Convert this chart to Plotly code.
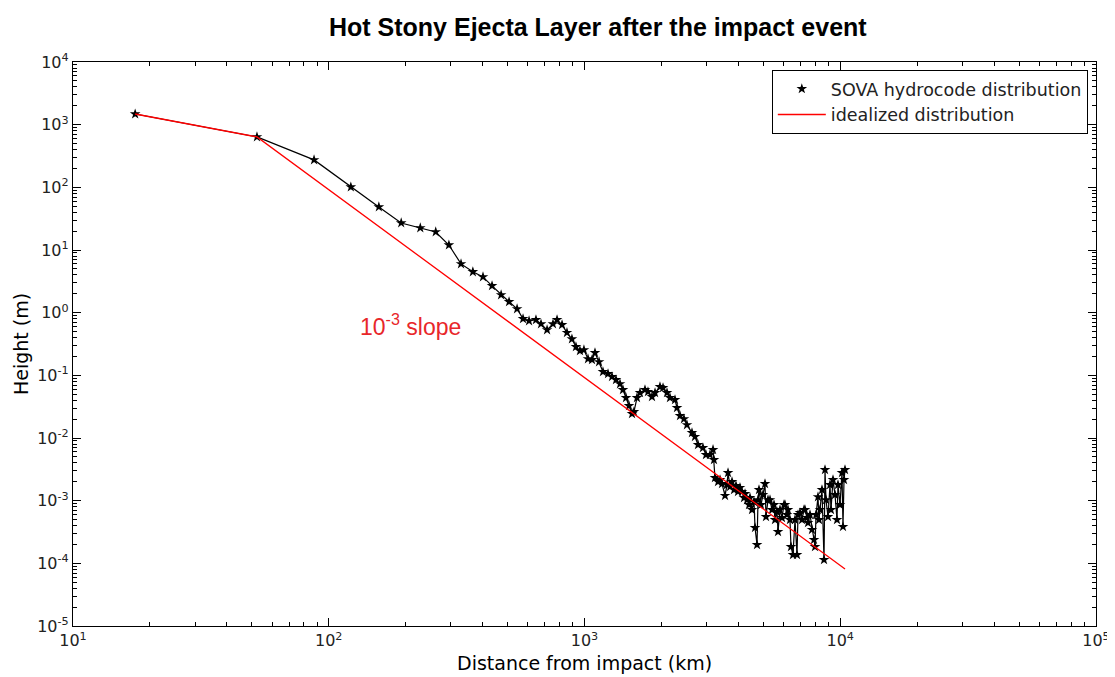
import plotly.graph_objects as go

# SOVA hydrocode distribution (distance km, height m)
sova_dist = [17.5, 52.4, 87.6, 122, 157, 192, 228, 262, 295, 329, 366, 401, 435, 472, 507, 545,
             575, 607, 646, 676, 714, 753, 781, 817, 854, 893, 926, 960, 995, 1032, 1070, 1099,
             1140, 1181, 1236, 1281, 1328, 1377, 1414, 1453, 1493, 1534, 1561, 1604, 1648, 1724,
             1771, 1836, 1887, 1973, 2028, 2102, 2159, 2259, 2300, 2363, 2449, 2516, 2632, 2704,
             2779, 2905, 2985, 3095, 3181, 3208, 3237,
             3327, 3388, 3449, 3544, 3608, 3641, 3707, 3774, 3843, 3912, 3983, 4055, 4129, 4205,
             4243, 4320, 4398, 4438, 4519, 4601, 4642, 4727, 4769, 4812, 4899, 4988, 5079, 5125,
             5218, 5313, 5409, 5509, 5558, 5659, 5710, 5813, 5918, 6026, 6081, 6191, 6247, 6360,
             6418, 6534, 6654, 6775, 6836, 6960, 7086, 7216, 7281, 7413, 7480, 7615, 7753, 7896,
             7967, 8039, 8185, 8259, 8333, 8484, 8640, 8718, 8796, 8956, 9119, 9201, 9369, 9539,
             9712, 9799, 9977, 10157, 10250, 10345, 10437]
sova_height = [1480, 637, 274, 101, 48.6, 27.0, 22.5, 19.4, 12.0, 6.0, 4.48, 3.72, 2.68, 1.92, 1.49, 1.15,
               0.80, 0.74, 0.77, 0.66, 0.53, 0.66, 0.77, 0.64, 0.48, 0.38, 0.285, 0.246, 0.255, 0.183, 0.177, 0.229,
               0.164, 0.114, 0.106, 0.095, 0.085, 0.073, 0.0587, 0.0438, 0.0326, 0.0243, 0.0262, 0.0438, 0.0526, 0.0587,
               0.0546, 0.0454, 0.0526, 0.0656, 0.0632, 0.0526, 0.0438, 0.0407, 0.0303, 0.0226, 0.0202, 0.0162, 0.0121, 0.0105,
               0.0078, 0.00698, 0.0054, 0.0054, 0.0065, 0.00449, 0.00232,
               0.0020, 0.00215, 0.00186, 0.0012, 0.00179, 0.00279, 0.00167, 0.0020, 0.00149, 0.00173, 0.00139, 0.00161, 0.00139, 0.00111,
               0.00129, 0.00103, 0.00086, 0.00111, 0.000716, 0.00096, 0.00037, 0.000198, 0.00103, 0.00149, 0.00086, 0.00124, 0.00186, 0.000553,
               0.00103, 0.00103, 0.000716, 0.00086, 0.000496, 0.000665, 0.000319, 0.000716, 0.000533, 0.00086, 0.00086, 0.000596, 0.000716, 0.000496,
               0.000184, 0.000137, 0.000496, 0.000137, 0.000596, 0.000641, 0.000496, 0.000716, 0.000716, 0.000533, 0.000444, 0.000596, 0.000344, 0.000238,
               0.000184, 0.000596, 0.00115, 0.000496, 0.000716, 0.00149, 0.000114, 0.00311, 0.00103, 0.000553, 0.00179, 0.000716, 0.00215, 0.00124,
               0.000496, 0.00179, 0.00086, 0.00279, 0.000384, 0.00215, 0.00311]

# idealized distribution
ideal_dist = [17.5, 52.4, 10440]
ideal_height = [1480, 637, 8.1e-5]

x_exponents = [1, 2, 3, 4, 5]
y_exponents = [-5, -4, -3, -2, -1, 0, 1, 2, 3, 4]
x_tickvals = [10.0 ** e for e in x_exponents]
x_ticktext = ["10<sup>%d</sup>" % e for e in x_exponents]
y_tickvals = [10.0 ** e for e in y_exponents]
y_ticktext = ["10<sup>%d</sup>" % e for e in y_exponents]
x_minor = [m * 10.0 ** e for e in x_exponents[:-1] for m in range(2, 10)]
y_minor = [m * 10.0 ** e for e in y_exponents[:-1] for m in range(2, 10)]

fig = go.Figure()
fig.add_trace(go.Scatter(
    x=sova_dist, y=sova_height, mode="lines+markers",
    line=dict(color="black", width=1.2),
    marker=dict(symbol="star", size=8, color="black"),
    showlegend=False,
))
fig.add_trace(go.Scatter(
    x=ideal_dist, y=ideal_height, mode="lines",
    line=dict(color="red", width=1.3),
    showlegend=False,
))
# legend entries
fig.add_trace(go.Scatter(
    x=[None], y=[None], mode="markers",
    marker=dict(symbol="star", size=8, color="black"),
    name="SOVA hydrocode distribution",
))
fig.add_trace(go.Scatter(
    x=[None], y=[None], mode="lines",
    line=dict(color="red", width=1.3),
    name="idealized distribution",
))

axis_common = dict(
    type="log", showgrid=False, zeroline=False, automargin=False,
    showline=True, linecolor="black", linewidth=1.3, mirror="allticks",
    ticks="inside", ticklen=8, tickcolor="black", tickwidth=1,
    tickfont=dict(family="DejaVu Sans", size=16, color="#222"),
)

fig.update_xaxes(**axis_common, range=[1, 5], tickmode="array", tickvals=x_tickvals, ticktext=x_ticktext,
                 minor=dict(ticks="inside", ticklen=4, tickcolor="black", tickmode="array", tickvals=x_minor, showgrid=False))
fig.update_yaxes(**axis_common, range=[-5, 4], tickmode="array", tickvals=y_tickvals, ticktext=y_ticktext,
                 minor=dict(ticks="inside", ticklen=4, tickcolor="black", tickmode="array", tickvals=y_minor, showgrid=False),
                 title=dict(text="Height (m)", font=dict(family="DejaVu Sans", size=19, color="black"), standoff=3))

# x axis title placed as paper annotation
fig.add_annotation(x=0.5, y=-0.066, xref="paper", yref="paper", yanchor="middle",
                   text="Distance from impact (km)", showarrow=False,
                   font=dict(family="DejaVu Sans", size=19, color="black"))

fig.add_annotation(x=2.318, y=-0.195, xref="x", yref="y", text="10<sup>-3</sup> slope",
                   showarrow=False, font=dict(family="Liberation Sans", size=23, color="#e8262a"))

fig.update_layout(
    width=1115, height=677,
    margin=dict(l=65, r=27, t=54, b=59),
    paper_bgcolor="white", plot_bgcolor="white",
    title=dict(text="<b>Hot Stony Ejecta Layer after the impact event</b>",
               x=0.529, xanchor="center", y=1 - 19 / 677, yanchor="middle",
               font=dict(family="Liberation Sans", size=25, color="black")),
    legend=dict(x=0.992, y=0.986, xanchor="right", yanchor="top",
                bordercolor="black", borderwidth=1, bgcolor="white",
                font=dict(family="DejaVu Sans", size=17.5, color="#222"),
                itemwidth=48, tracegroupgap=2),
)

fig.write_html("out.html")
